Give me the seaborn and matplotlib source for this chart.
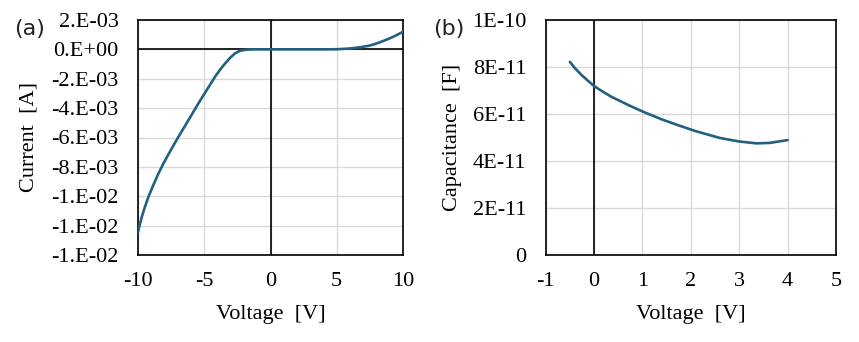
import matplotlib
matplotlib.use("Agg")
import matplotlib.pyplot as plt
import seaborn as sns
import pandas as pd
from matplotlib.ticker import FixedLocator, FixedFormatter

# ---- data ----
iv_voltage = [-10, -9.9, -9.72, -9.5, -9.22, -8.85, -8.47, -8.1, -7.71, -7.33, -6.96,
              -6.2, -5.45, -4.82, -4.19, -3.8, -3.43, -3.05, -2.68, -2.3, -1.92, -1.6,
              -1.3, 0, 2, 4, 5, 6, 6.75, 7.5, 8, 8.5, 9, 9.5, 10]
iv_current = [-0.01245, -0.01205, -0.01143, -0.01078, -0.01006, -0.00925, -0.00848,
              -0.0078, -0.00716, -0.00655, -0.00597, -0.00483, -0.00369, -0.00278,
              -0.00187, -0.00138, -0.00096, -0.00058, -0.00027, -0.0001, -0.00003,
              -0.00001, 0.0, 0.0, 0.0, 0.0, 0.00001, 0.00006, 0.00014, 0.00026, 0.0004,
              0.00057, 0.00075, 0.00096, 0.0012]

cv_voltage = [-0.5, -0.4, -0.26, -0.13, 0, 0.18, 0.36, 0.71, 1.02, 1.4, 1.77, 2.1, 2.6,
              3.0, 3.36, 3.63, 4.0]
cv_capacitance = [8.22e-11, 7.96e-11, 7.66e-11, 7.42e-11, 7.19e-11, 6.95e-11, 6.73e-11,
                  6.38e-11, 6.09e-11, 5.77e-11, 5.5e-11, 5.27e-11, 4.98e-11, 4.83e-11,
                  4.75e-11, 4.77e-11, 4.89e-11]

iv_xticks = [-10, -5, 0, 5, 10]
iv_yticks = [0.002, 0.0, -0.002, -0.004, -0.006, -0.008, -0.010, -0.012, -0.014]
iv_ylabels = ["2.E-03", "0.E+00", "-2.E-03", "-4.E-03", "-6.E-03", "-8.E-03",
              "-1.E-02", "-1.E-02", "-1.E-02"]
cv_xticks = [-1, 0, 1, 2, 3, 4, 5]
cv_yticks = [0, 2e-11, 4e-11, 6e-11, 8e-11, 1e-10]
cv_ylabels = ["0", "2E-11", "4E-11", "6E-11", "8E-11", "1E-10"]

sns.set_theme(style="white")
plt.rcParams['font.family'] = ['Liberation Serif', 'DejaVu Serif']

LINE = "#22607f"
GRID = "#d9d9d9"
FS = 16

fig = plt.figure(figsize=(8.59, 3.42), dpi=100)
ax1 = fig.add_axes([138/859, 1-255/342, 265/859, 235/342])
ax2 = fig.add_axes([545.7/859, 1-255/342, 290.3/859, 235/342])

df1 = pd.DataFrame({"V": iv_voltage, "I": iv_current})
df2 = pd.DataFrame({"V": cv_voltage, "C": cv_capacitance})

sns.lineplot(data=df1, x="V", y="I", ax=ax1, color=LINE, linewidth=1.9, sort=False, zorder=5)
sns.lineplot(data=df2, x="V", y="C", ax=ax2, color=LINE, linewidth=1.9, sort=False, zorder=5)

def style(ax, xticks, yticks, ylabels, xlim, ylim, ylabel):
    ax.set_xlim(*xlim)
    ax.set_ylim(*ylim)
    ax.xaxis.set_major_locator(FixedLocator(xticks))
    ax.xaxis.set_major_formatter(FixedFormatter([str(t) for t in xticks]))
    ax.yaxis.set_major_locator(FixedLocator(yticks))
    ax.yaxis.set_major_formatter(FixedFormatter(ylabels))
    ax.grid(True, color=GRID, linewidth=1.0, zorder=0)
    ax.set_axisbelow(True)
    for s in ax.spines.values():
        s.set_color("black")
        s.set_linewidth(1.2)
        s.set_visible(True)
    ax.tick_params(axis="both", length=0, labelsize=FS, colors="black")
    ax.tick_params(axis="y", pad=14)
    ax.tick_params(axis="x", pad=12)
    ax.set_xlabel("Voltage  [V]", fontsize=FS, color="black", labelpad=10)
    ax.set_ylabel(ylabel, fontsize=FS, color="black")
    ax.axvline(0, color="black", linewidth=1.2, zorder=3)

style(ax1, iv_xticks, iv_yticks, iv_ylabels, (-10, 10), (-0.014, 0.002), "Current  [A]")
ax1.axhline(0, color="black", linewidth=1.2, zorder=3)
style(ax2, cv_xticks, cv_yticks, cv_ylabels, (-1, 5), (0, 1e-10), "Capacitance  [F]")

ax1.yaxis.set_label_coords(-0.375, 0.5)
ax2.yaxis.set_label_coords(-0.29, 0.5)

fig.text(14/859, 1-29/342, "(a)", fontsize=FS, family=['DejaVu Sans'], va="center", ha="left", color="#222222")
fig.text(433/859, 1-29/342, "(b)", fontsize=FS, family=['DejaVu Sans'], va="center", ha="left", color="#222222")

fig.savefig("out.png", dpi=100, facecolor="white")
